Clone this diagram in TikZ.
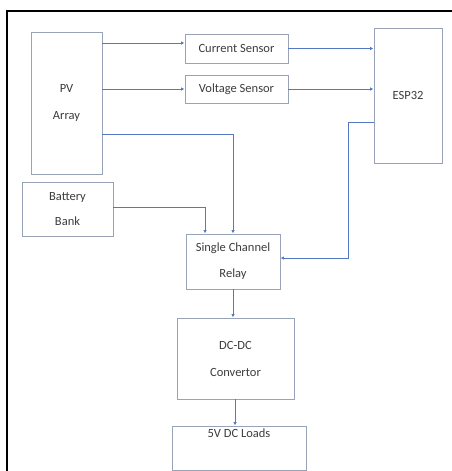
\documentclass[tikz,border=0pt]{standalone}
\usepackage{fontspec}
\setmainfont{Carlito}
\usetikzlibrary{arrows.meta}
\definecolor{wire}{HTML}{5478C2}
\definecolor{boxline}{HTML}{98A3B8}
\definecolor{label}{HTML}{3C3C3C}
\tikzset{
  block/.style={draw=boxline, line width=0.9pt, fill=white, align=center,
    text=label, font=\fontsize{12.5}{15}\selectfont, inner sep=2pt},
  wireline/.style={draw=wire, line width=0.9pt, -{Latex[length=3.5pt,width=3.5pt]}},
}
\begin{document}
\begin{tikzpicture}[x=1pt,y=-1pt]
\useasboundingbox (0,0) rectangle (452,471);
% outer frame
\draw[line width=1.6pt, line cap=rect] (7,471) -- (7,11) -- (452,11);

% blocks
\node[block, minimum width=71pt, minimum height=142pt] (PV) at (66.5,103) {PV\\[12pt]Array};
\node[block, minimum width=103pt, minimum height=29pt] (Cur) at (236.5,48.5) {Current Sensor};
\node[block, minimum width=103pt, minimum height=28pt] (Volt) at (236.5,89) {Voltage Sensor};
\node[block, minimum width=68pt, minimum height=135pt] (ESP) at (408,95.5) {ESP32};
\node[block, minimum width=91pt, minimum height=54pt] (Bat) at (67.5,209) {Battery\\[10pt]Bank};
\node[block, minimum width=94pt, minimum height=55pt] (Relay) at (233,261.5) {Single Channel\\[11pt]Relay};
\node[block, minimum width=117pt, minimum height=81pt] (DCDC) at (235.5,358.5) {DC-DC\\[12pt]Convertor};
\node[block, minimum width=134pt, minimum height=44pt] (Loads) at (239,448) {5V DC Loads\\[11pt]\strut};

% helper points
\coordinate (curIn) at ([yshift=5.5pt]Cur.west);
\coordinate (espBend) at (348,258);

% connectors
\draw[wireline] (curIn -| PV.east) -- (curIn);
\draw[wireline] (Volt.west -| PV.east) -- (Volt.west);
\draw[wireline] (Cur.east) -- (Cur.east -| ESP.west);
\draw[wireline] (Volt.east) -- (Volt.east -| ESP.west);
\draw[wireline] ([yshift=-31pt]PV.east) -| (Relay.north);
\draw[wireline] ([yshift=2pt]Bat.east) -| ([xshift=-28pt]Relay.north);
\draw[wireline] ([yshift=-26.5pt]ESP.west) -| (espBend) -- (espBend -| Relay.east);
\draw[wireline] (Relay.south) -- (Relay.south |- DCDC.north);
\draw[wireline] ([xshift=-0.5pt]DCDC.south) -- ([xshift=-0.5pt]DCDC.south |- Loads.north);
\end{tikzpicture}
\end{document}
